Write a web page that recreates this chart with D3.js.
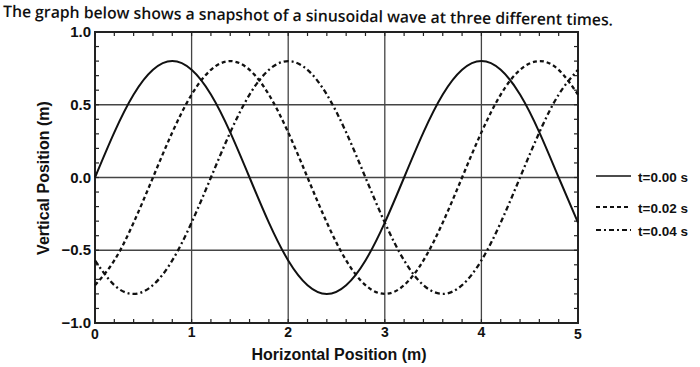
<!DOCTYPE html>
<html><head><meta charset="utf-8">
<script src="https://cdn.jsdelivr.net/npm/d3@7"></script>
<style>body{margin:0;background:#fff}svg{display:block}</style>
</head><body>
<svg id="c" width="700" height="367"></svg>
<script>
const xPositions = [0,0.2,0.4,0.6,0.8,1.0,1.2,1.4,1.6,1.8,2.0,2.2,2.4,2.6,2.8,3.0,3.2,3.4,3.6,3.8,4.0,4.2,4.4,4.6,4.8,5.0];
const wave000 = [0,0.31,0.57,0.74,0.8,0.74,0.57,0.31,0,-0.31,-0.57,-0.74,-0.8,-0.74,-0.57,-0.31,0,0.31,0.57,0.74,0.8,0.74,0.57,0.31,0,-0.31];
const wave002 = [-0.74,-0.57,-0.31,0,0.31,0.57,0.74,0.8,0.74,0.57,0.31,0,-0.31,-0.57,-0.74,-0.8,-0.74,-0.57,-0.31,0,0.31,0.57,0.74,0.8,0.74,0.57];
const wave004 = [-0.57,-0.74,-0.8,-0.74,-0.57,-0.31,0,0.31,0.57,0.74,0.8,0.74,0.57,0.31,0,-0.31,-0.57,-0.74,-0.8,-0.74,-0.57,-0.31,0,0.31,0.57,0.74];
const seriesNames = ["t=0.00 s","t=0.02 s","t=0.04 s"];
const xTicks = [0,1,2,3,4,5];
const yTicks = [-1.0,-0.5,0.0,0.5,1.0];
const title = "The graph below shows a snapshot of a sinusoidal wave at three different times.";

const svg = d3.select("#c");
const L=95, R=578, T=32, B=323;
const x = d3.scaleLinear().domain([0,5]).range([L,R]);
const y = d3.scaleLinear().domain([-1,1]).range([B,T]);
const ink = "#222";
const font = "Liberation Sans, Arial, sans-serif";

// title
svg.append("text").attr("x",3).attr("y",17).attr("transform","rotate(0.8,3,17)")
  .attr("font-family","Open Sans, sans-serif").attr("font-size",16).attr("font-weight",600)
  .attr("textLength",610).attr("lengthAdjust","spacingAndGlyphs")
  .attr("fill","#111").text(title);

// grid
const g = svg.append("g");
g.selectAll(".vg").data([1,2,3,4]).join("line")
  .attr("x1",d=>x(d)).attr("x2",d=>x(d)).attr("y1",T).attr("y2",B)
  .attr("stroke","#444").attr("stroke-width",1.3);
g.selectAll(".hg").data([-0.5,0,0.5]).join("line")
  .attr("x1",L).attr("x2",R).attr("y1",d=>y(d)).attr("y2",d=>y(d))
  .attr("stroke","#444").attr("stroke-width",1.3);

// minor ticks (inside)
const xMinor = d3.range(0,5.001,0.2);
const yMinor = d3.range(-1,1.001,0.1);
g.selectAll(".xb").data(xMinor).join("line")
  .attr("x1",d=>x(d)).attr("x2",d=>x(d)).attr("y1",B).attr("y2",B-4).attr("stroke",ink).attr("stroke-width",1.2);
g.selectAll(".xt").data(xMinor).join("line")
  .attr("x1",d=>x(d)).attr("x2",d=>x(d)).attr("y1",T).attr("y2",T+4).attr("stroke",ink).attr("stroke-width",1.2);
g.selectAll(".yl").data(yMinor).join("line")
  .attr("x1",L).attr("x2",L+4).attr("y1",d=>y(d)).attr("y2",d=>y(d)).attr("stroke",ink).attr("stroke-width",1.2);
g.selectAll(".yr").data(yMinor).join("line")
  .attr("x1",R).attr("x2",R-4).attr("y1",d=>y(d)).attr("y2",d=>y(d)).attr("stroke",ink).attr("stroke-width",1.2);

// frame
svg.append("rect").attr("x",L).attr("y",T).attr("width",R-L).attr("height",B-T)
  .attr("fill","none").attr("stroke",ink).attr("stroke-width",2);

// tick labels
svg.selectAll(".xl").data(xTicks).join("text")
  .attr("x",d=>x(d)).attr("y",d=>(d===0||d===5)?B+16:B+14).attr("text-anchor","middle")
  .attr("font-family",font).attr("font-weight","bold").attr("font-size",14)
  .attr("fill","#111").text(d=>d);
svg.selectAll(".ylb").data(yTicks).join("text")
  .attr("x",L-4).attr("y",d=>y(d)+5).attr("text-anchor","end")
  .attr("font-family",font).attr("font-weight","bold").attr("font-size",15)
  .attr("fill","#111").text(d=>d<0?"\u2212"+Math.abs(d).toFixed(1):d.toFixed(1));

// axis titles
svg.append("text").attr("x",339).attr("y",360).attr("text-anchor","middle")
  .attr("font-family",font).attr("font-weight","bold").attr("font-size",16)
  .attr("fill","#111").text("Horizontal Position (m)");
svg.append("text").attr("transform","translate(49,178) rotate(-90)").attr("text-anchor","middle")
  .attr("font-family",font).attr("font-weight","bold").attr("font-size",16)
  .attr("fill","#111").text("Vertical Position (m)");

// curves
const styles = [
  {data:wave000, dash:null, w:2},
  {data:wave002, dash:"4,3", w:2.3},
  {data:wave004, dash:"5,3,2,3", w:2.3}
];
const line = d3.line().x(d=>x(d[0])).y(d=>y(d[1])).curve(d3.curveNatural);
styles.forEach(s=>{
  svg.append("path").datum(xPositions.map((xv,i)=>[xv,s.data[i]]))
    .attr("d",line).attr("fill","none").attr("stroke","#111")
    .attr("stroke-width",s.w).attr("stroke-dasharray",s.dash);
});

// legend
const lg = svg.append("g");
const ly = [176,207,230];
seriesNames.forEach((n,i)=>{
  lg.append("line").attr("x1",596).attr("x2",631).attr("y1",ly[i]).attr("y2",ly[i])
    .attr("stroke","#111").attr("stroke-width",i===0?1.6:1.8).attr("stroke-dasharray",styles[i].dash);
  lg.append("text").attr("x",638).attr("y",ly[i]+6)
    .attr("font-family",font).attr("font-weight","bold").attr("font-size",13.5)
    .attr("fill","#111").text(n);
});
</script>
</body></html>
